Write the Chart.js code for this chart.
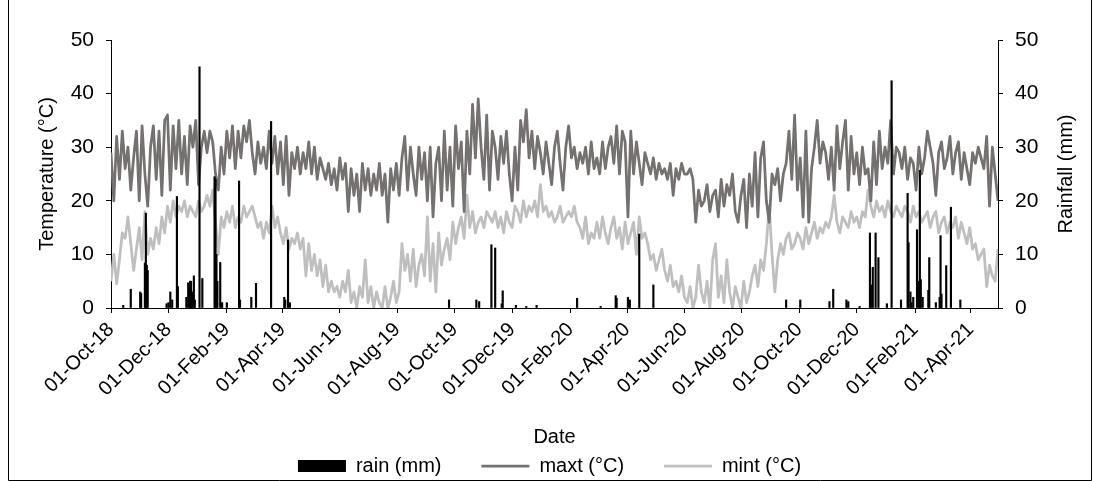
<!DOCTYPE html>
<html><head><meta charset="utf-8">
<script src="https://cdn.jsdelivr.net/npm/chart.js@4"></script>
<style>html,body{margin:0;padding:0;background:#fff;}#wrap{width:1099px;height:481px;}</style>
</head><body><div id="wrap"><canvas id="c" width="1099" height="481"></canvas></div>
<script>
// ---- data ----
const startDate = '2018-10-01';
const endDate = '2021-04-30';
const stepDays = 3; // temperature readings every 3rd day from startDate
const maxt = [
29,20,32,24,33,26,30,22,28,33,
20,34,25,19,30,34,24,33,21,35,
36,22,34,26,35,25,32,23,34,30,
35,23,30,33,29,33,31,25,22,30,
25,33,28,34,26,33,28,34,31,35,
29,25,31,27,30,26,33,27,32,25,
31,23,32,21,29,26,30,25,29,26,
31,25,30,24,28,26,24,27,23,26,
22,28,24,27,18,26,21,25,18,27,
22,26,21,25,22,27,21,25,16,26,
22,27,21,28,32,22,30,25,21,30,
24,29,20,30,17,27,30,20,33,22,
30,19,34,26,31,18,33,25,38,28,
39,30,24,36,22,33,30,24,32,27,
33,25,20,30,22,35,31,37,28,33,
26,32,29,25,31,27,23,30,33,27,
22,30,34,28,30,26,29,27,30,25,
31,26,28,25,31,26,30,32,27,34,
25,33,31,17,33,25,31,27,23,29,
27,25,28,24,27,25,26,24,27,21,
26,24,27,25,25,26,24,16,22,19,
20,23,18,21,22,17,24,19,23,21,
25,18,16,21,24,15,25,19,29,17,
28,31,20,16,25,23,26,20,25,27,
33,24,36,22,28,17,33,16,26,30,
35,27,31,29,24,30,22,34,26,31,
35,22,32,25,29,23,30,25,26,20,
31,23,33,26,30,27,35,25,30,29,
26,30,24,28,27,22,30,25,28,33,
30,27,21,29,31,26,28,32,25,29,
31,24,29,26,23,29,27,30,28,26,
32,19,30,25,20
];
const mint = [
5,10,4.5,9,14,13,17,12,7,11,
15,9,18,10,13,11,15,12,17,14,
19,16,20,17,19,18,20,17,19,18,
17,20,18,19,21,19,22,16,10,17,
15,18,16,19,15,17,16,19,17,18,
19,17,15,16,13,16,14,19,15,17,
14,12,15,11,13,12,14,11,13,6,
12,7,10,6,9,4,8,3,5,3,
4,2,5,3,7,1,3,0,4,2,
9,1,4,0,3,1,0,4,0,2,
5,1,3,12,7,10,5,11,4,8,
10,6,17,5,12,3,14,8,11,13,
9,16,12,15,17,13,21,15,18,14,
16,17,15,18,17,16,18,15,17,14,
18,16,15,19,18,16,20,17,19,18,
20,17,23,18,19,17,18,16,17,19,
16,17,18,17,19,16,15,13,17,12,
14,13,16,13,17,14,12,15,17,13,
15,11,16,12,14,16,10,17,13,14,
12,9,10,7,9,11,7,5,8,4,
5,3,6,2,1,4,0,2,8,3,
1,5,0,9,12,2,6,1,9,3,
0,4,2,0,5,1,3,6,8,4,
9,7,12,19,10,3,9,12,10,13,
14,11,12,14,13,11,15,12,14,16,
13,15,14,16,15,17,21,16,14,17,
16,15,18,16,17,15,18,17,22,19,
17,20,18,19,17,20,18,17,19,18,
17,19,18,16,19,17,18,16,17,18,
15,17,18,14,16,17,14,16,15,17,
13,16,14,12,15,11,12,9,10,11,
4,8,6,5,11
];
// rain events: day offset from startDate, amount (mm)
const rainDay = [13,21,31,32,36,37,38,39,59,61,63,65,70,71,80,82,84,85,86,88,89,94,97,110,111,112,113,116,118,123,136,137,149,154,170,184,185,188,190,
359,388,391,404,408,415,416,430,441,452,495,520,536,537,549,551,561,576,
717,732,763,767,781,783,795,806,807,809,812,815,824,829,839,846,847,849,850,852,856,858,859,860,862,868,869,876,880,881,882,887,892,902];
const rainMm = [0.5,3.5,3,2.7,8.4,17.7,8,7,0.8,1,3,1.5,20.8,4,2,4.7,5,5,3,6,1.5,45,5.5,24.5,24,10,5,8.5,1,1,23.7,1.5,2,4.6,34.8,2,1.5,12.7,1,
1.5,1.5,1.2,11.8,11.2,0.8,3.2,0.5,0.3,0.5,1.8,0.3,2.3,1.8,2,1.5,13.8,4.3,
1.5,1.5,1.2,3.5,1.5,1.2,0.3,14,4.3,7.6,14,9.4,0.8,42.4,1.5,21.4,12.2,3,1,2,14.6,5,25.7,5.3,2,3.3,9.4,1,2,13.5,2.6,7.9,18.8,1.5];
const tickDates = ['2018-10-01','2018-12-01','2019-02-01','2019-04-01','2019-06-01','2019-08-01','2019-10-01','2019-12-01',
'2020-02-01','2020-04-01','2020-06-01','2020-08-01','2020-10-01','2020-12-01','2021-02-01','2021-04-01'];
const tickLabels = ['01-Oct-18','01-Dec-18','01-Feb-19','01-Apr-19','01-Jun-19','01-Aug-19','01-Oct-19','01-Dec-19',
'01-Feb-20','01-Apr-20','01-Jun-20','01-Aug-20','01-Oct-20','01-Dec-20','01-Feb-21','01-Apr-21'];
const axisTicksTemp = [0,10,20,30,40,50];

// ---- helpers ----
const DAY = 86400000;
const dayOf = d => Math.round((Date.parse(d) - Date.parse(startDate)) / DAY);
const tickDays = tickDates.map(dayOf);
const lastDay = dayOf(endDate);

const FONT = "'Liberation Sans', Arial, sans-serif";
Chart.defaults.font.family = FONT;
Chart.defaults.color = '#000';

const extras = {
  id: 'extras',
  afterLayout(chart) {
    if (chart.legend) { chart.legend.top += 5; chart.legend.bottom += 5; }
  },
  afterDraw(chart) {
    const ctx = chart.ctx, ca = chart.chartArea;
    ctx.save();
    ctx.strokeStyle = '#000'; ctx.lineWidth = 1;
    ctx.beginPath();
    ctx.moveTo(8.5, 0); ctx.lineTo(8.5, 480.5); ctx.lineTo(1091.5, 480.5); ctx.lineTo(1091.5, 0);
    ctx.stroke();
    ctx.translate(1066, (ca.top + ca.bottom) / 2);
    ctx.rotate(-Math.PI / 2);
    ctx.font = '20px ' + FONT;
    ctx.fillStyle = '#000'; ctx.textAlign = 'center'; ctx.textBaseline = 'middle';
    ctx.fillText('Rainfall (mm)', 0, 0);
    ctx.restore();
  }
};

new Chart(document.getElementById('c'), {
  type: 'line',
  data: {
    datasets: [
      { type: 'bar', label: 'rain (mm)', yAxisID: 'y2', order: 0,
        data: rainDay.map((d, i) => ({ x: d, y: rainMm[i] })),
        backgroundColor: '#000', borderWidth: 0, barThickness: 1.5 },
      { type: 'line', label: 'maxt (°C)', yAxisID: 'y', order: 1,
        data: maxt.map((v, i) => ({ x: i * stepDays, y: v })),
        borderColor: '#767171', backgroundColor: '#767171', borderWidth: 2.75,
        pointRadius: 0, tension: 0, borderJoinStyle: 'round' },
      { type: 'line', label: 'mint (°C)', yAxisID: 'y', order: 2,
        data: mint.map((v, i) => ({ x: i * stepDays, y: v })),
        borderColor: '#BFBFBF', backgroundColor: '#BFBFBF', borderWidth: 2.75,
        pointRadius: 0, tension: 0, borderJoinStyle: 'round' }
    ]
  },
  options: {
    responsive: false, animation: false, devicePixelRatio: 1,
    layout: { padding: { left: 8, right: 8, top: 40, bottom: 0 } },
    plugins: {
      tooltip: { enabled: false },
      legend: {
        position: 'bottom',
        labels: {
          usePointStyle: true, pointStyleWidth: 48, boxHeight: 12, padding: 1,
          color: '#000', font: { size: 20 },
          generateLabels(chart) {
            const items = Chart.defaults.plugins.legend.labels.generateLabels(chart);
            items.forEach((it, i) => {
              it.pointStyle = chart.data.datasets[it.datasetIndex].type === 'bar' ? 'rect' : 'line';
              if (i < items.length - 1) it.text += '       ';
            });
            return items;
          }
        }
      }
    },
    scales: {
      x: {
        type: 'linear', min: 0, max: lastDay, offset: false,
        afterBuildTicks: s => { s.ticks = tickDays.map(v => ({ value: v })); },
        afterFit: s => { s.height = 142; },
        ticks: { autoSkip: false, minRotation: 45, maxRotation: 45, padding: 5,
                 font: { size: 20 }, color: '#000',
                 callback: (v, i) => tickLabels[i] },
        grid: { display: true, drawOnChartArea: false, drawTicks: true, tickLength: 5, color: '#000', offset: false },
        border: { display: true, color: '#000', width: 1 },
        title: { display: true, text: 'Date', font: { size: 20 }, color: '#000', padding: { top: 0, bottom: 1 } }
      },
      y: {
        position: 'left', min: 0, max: 50,
        afterBuildTicks: s => { s.ticks = axisTicksTemp.map(v => ({ value: v })); },
        afterFit: s => { s.width = 103; },
        ticks: { font: { size: 21 }, color: '#000', padding: 12 },
        grid: { display: true, drawOnChartArea: false, drawTicks: true, tickLength: 5, color: '#000' },
        border: { display: true, color: '#000', width: 1 },
        title: { display: true, text: 'Temperature (°C)', font: { size: 20 }, color: '#000', padding: { top: 27, bottom: 0 } }
      },
      y2: {
        position: 'right', min: 0, max: 50,
        afterBuildTicks: s => { s.ticks = axisTicksTemp.map(v => ({ value: v })); },
        afterFit: s => { s.width = 93; },
        ticks: { font: { size: 21 }, color: '#000', padding: 12 },
        grid: { display: true, drawOnChartArea: false, drawTicks: true, tickLength: 5, color: '#000' },
        border: { display: true, color: '#000', width: 1 }
      }
    }
  },
  plugins: [extras]
});
</script></body></html>
